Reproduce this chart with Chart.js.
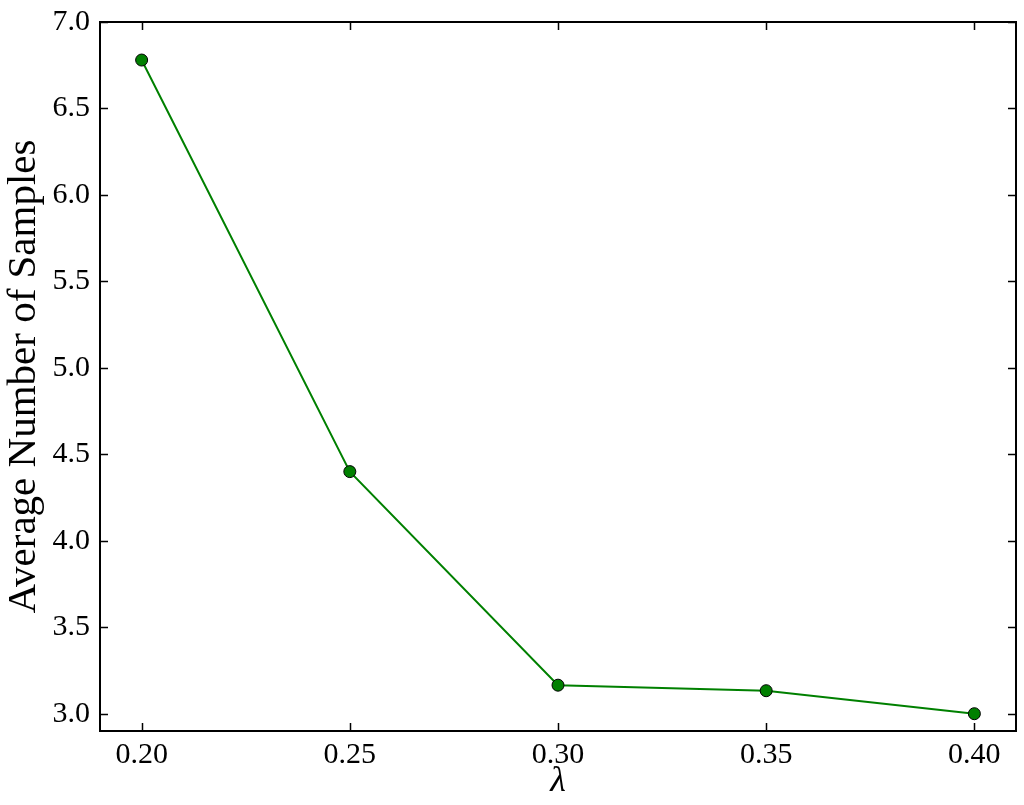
<!DOCTYPE html>
<html>
<head>
<meta charset="utf-8">
<script src="https://cdn.jsdelivr.net/npm/chart.js@4.4.1/dist/chart.umd.min.js"></script>
<style>
    html, body { margin: 0; padding: 0; background: #fff; }
    #chart { display: block; }
</style>
</head>
<body>
<canvas id="chart" width="1024" height="805"></canvas>
<script>
const lambdas = [0.20, 0.25, 0.30, 0.35, 0.40];
const avgSamples = [6.78, 4.40, 3.165, 3.133, 3.0];
const xTicks = [0.20, 0.25, 0.30, 0.35, 0.40];
const yTicks = [3.0, 3.5, 4.0, 4.5, 5.0, 5.5, 6.0, 6.5, 7.0];

const serif = '"Liberation Serif", "DejaVu Serif", serif';

// matplotlib-style inward ticks on all four sides
const inwardTicks = {
    id: 'inwardTicks',
    afterDraw(chart) {
        const { ctx, chartArea: a, scales } = chart;
        const len = 8;
        ctx.save();
        ctx.strokeStyle = '#000';
        ctx.lineWidth = 1.5;
        ctx.beginPath();
        xTicks.forEach(v => {
            const px = Math.round(scales.x.getPixelForValue(v)) + 0.5;
            ctx.moveTo(px, a.bottom); ctx.lineTo(px, a.bottom - len);
            ctx.moveTo(px, a.top); ctx.lineTo(px, a.top + len);
        });
        yTicks.forEach(v => {
            const py = Math.round(scales.y.getPixelForValue(v)) + 0.5;
            ctx.moveTo(a.left, py); ctx.lineTo(a.left + len, py);
            ctx.moveTo(a.right, py); ctx.lineTo(a.right - len, py);
        });
        ctx.stroke();
        ctx.lineWidth = 2;
        ctx.strokeRect(a.left, a.top, a.right - a.left, a.bottom - a.top);
        ctx.restore();
    }
};

new Chart(document.getElementById('chart').getContext('2d'), {
    type: 'scatter',
    data: {
        datasets: [{
            data: lambdas.map((x, i) => ({ x: x, y: avgSamples[i] })),
            showLine: true,
            borderColor: '#008000',
            borderWidth: 2,
            backgroundColor: '#008000',
            pointBackgroundColor: '#008000',
            pointBorderColor: '#000',
            pointBorderWidth: 1,
            pointRadius: 6,
            tension: 0
        }]
    },
    options: {
        responsive: false,
        animation: false,
        layout: { padding: { left: 0, top: 22, right: 8, bottom: 0 } },
        plugins: {
            legend: { display: false },
            tooltip: { enabled: false }
        },
        scales: {
            x: {
                type: 'linear',
                min: 0.19,
                max: 0.41,
                grid: { display: false, drawTicks: false },
                border: { display: false },
                afterBuildTicks: s => { s.ticks = xTicks.map(v => ({ value: v })); },
                afterFit: s => { s.height = 74; s.paddingLeft = 0; s.paddingRight = 0; },
                ticks: {
                    color: '#000',
                    padding: 6,
                    font: { family: serif, size: 30 },
                    callback: v => v.toFixed(2)
                },
                title: {
                    display: true,
                    text: 'λ',
                    color: '#000',
                    padding: { top: 0, bottom: 2 },
                    font: { family: serif, size: 36, style: 'italic' }
                }
            },
            y: {
                min: 2.9,
                max: 7.0,
                grid: { display: false, drawTicks: false },
                border: { display: false },
                afterBuildTicks: s => { s.ticks = yTicks.map(v => ({ value: v })); },
                afterFit: s => { s.width = 100; s.paddingTop = 0; s.paddingBottom = 0; },
                ticks: {
                    color: '#000',
                    padding: 10,
                    font: { family: serif, size: 30 },
                    callback: v => v.toFixed(1)
                },
                title: {
                    display: true,
                    text: 'Average Number of Samples',
                    color: '#000',
                    padding: { top: 0, bottom: 0 },
                    font: { family: serif, size: 41 }
                }
            }
        }
    },
    plugins: [inwardTicks]
});
</script>
</body>
</html>
